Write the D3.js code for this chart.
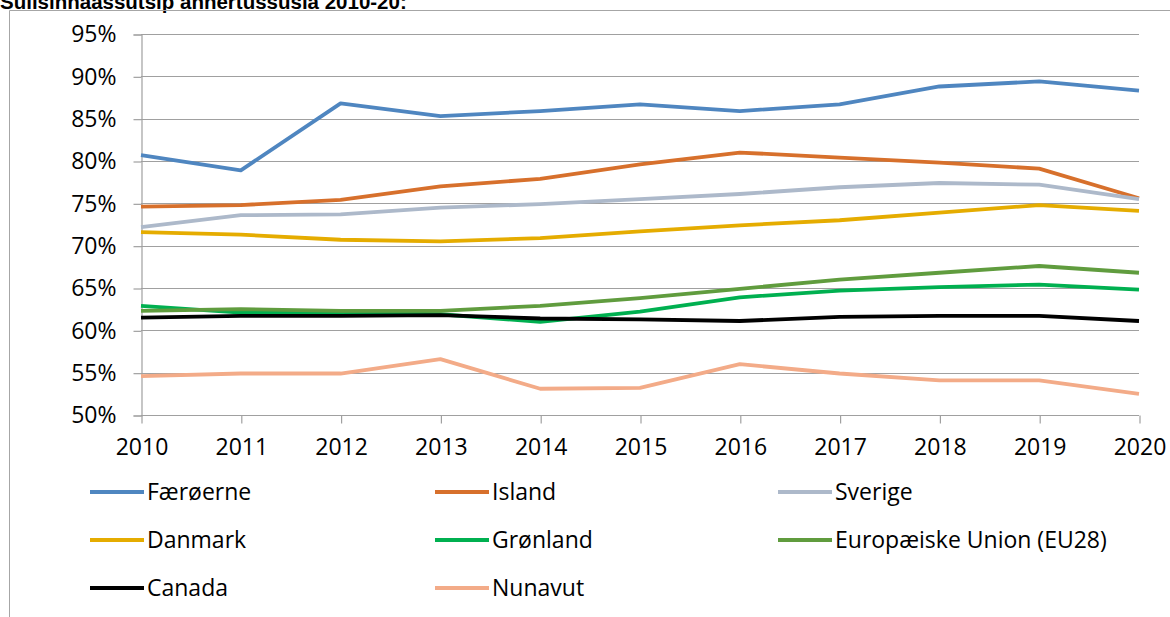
<!DOCTYPE html>
<html>
<head>
<meta charset="utf-8">
<script src="https://cdn.jsdelivr.net/npm/d3@7"></script>
<style>
  html, body { margin: 0; padding: 0; background: #fff; }
  svg { display: block; }
  text { font-family: "Open Sans", sans-serif; fill: #000; }
</style>
</head>
<body>
<svg id="chart" width="1170" height="617"></svg>
<script>
const title = "Sulisinnaassutsip annertussusia 2010-20:";
const years = ["2010","2011","2012","2013","2014","2015","2016","2017","2018","2019","2020"];
const yTicks = [0.50,0.55,0.60,0.65,0.70,0.75,0.80,0.85,0.90,0.95];

const seriesNames = ["Færøerne","Island","Sverige","Danmark","Grønland","Europæiske Union (EU28)","Canada","Nunavut"];
const faroe    = [80.7, 78.9, 86.8, 85.3, 85.9, 86.7, 85.9, 86.7, 88.8, 89.4, 88.3];
const iceland  = [74.6, 74.8, 75.4, 77.0, 77.9, 79.6, 81.0, 80.4, 79.8, 79.1, 75.6];
const sweden   = [72.2, 73.6, 73.7, 74.5, 74.9, 75.5, 76.1, 76.9, 77.4, 77.2, 75.5];
const denmark  = [71.6, 71.3, 70.7, 70.5, 70.9, 71.7, 72.4, 73.0, 73.9, 74.8, 74.1];
const greenland= [62.9, 62.1, 62.1, 61.9, 61.0, 62.2, 63.9, 64.7, 65.1, 65.4, 64.8];
const eu28     = [62.3, 62.5, 62.3, 62.3, 62.9, 63.8, 64.9, 66.0, 66.8, 67.6, 66.8];
const canada   = [61.5, 61.7, 61.7, 61.8, 61.4, 61.3, 61.1, 61.6, 61.7, 61.7, 61.1];
const nunavut  = [54.6, 54.9, 54.9, 56.6, 53.1, 53.2, 56.0, 54.9, 54.1, 54.1, 52.5];
const seriesValues = [faroe, iceland, sweden, denmark, greenland, eu28, canada, nunavut];
const colors = ["#4f86c0","#d7702c","#adb9ca","#e5ac00","#00b050","#609c3e","#000000","#f3ab88"];

const svg = d3.select("#chart");

// title (partly clipped at the top edge, as in the reference)
svg.append("text")
  .attr("x", 0).attr("y", 9)
  .style("font-family", "'Liberation Sans', Arial, sans-serif")
  .style("font-weight", "bold")
  .style("font-size", "20.5px")
  .text(title);

// outer border (top and left visible)
svg.append("path")
  .attr("d", "M9.5,617 V10.5 H1170")
  .attr("fill", "none").attr("stroke", "#a6a6a6").attr("stroke-width", 1);

const x = d3.scalePoint().domain(years).range([141, 1139]);
const y = d3.scaleLinear().domain([0.50, 0.95]).range([415, 34]);

// gridlines
svg.append("g")
  .selectAll("line").data(yTicks.slice(1)).join("line")
  .attr("x1", 141).attr("x2", 1139)
  .attr("y1", d => Math.round(y(d)) + 0.5).attr("y2", d => Math.round(y(d)) + 0.5)
  .attr("stroke", "#a0a0a0").attr("stroke-width", 1.2);

// y axis
const yAxis = d3.axisLeft(y).tickValues(yTicks).tickFormat(d3.format(".0%")).tickSize(8).tickPadding(17);
const gy = svg.append("g").attr("transform", "translate(141.5,0.5)").call(yAxis);
gy.selectAll("path, line").attr("stroke", "#a0a0a0").attr("stroke-width", 1.2);
gy.selectAll("text").style("font-size", "23px").style("font-family", "'Open Sans', sans-serif").attr("fill", "#000");

// x axis
const xAxis = d3.axisBottom(x).tickSize(8).tickPadding(15);
const gx = svg.append("g").attr("transform", "translate(0.5,415.5)").call(xAxis);
gx.select(".domain").attr("d", "M140.5,0H1138.5").attr("stroke", "#a0a0a0").attr("stroke-width", 1.2);
gx.selectAll("line").attr("stroke", "#a0a0a0").attr("stroke-width", 1.2);
gx.selectAll("text").style("font-size", "23px").style("font-family", "'Open Sans', sans-serif").attr("fill", "#000");

// lines
const line = d3.line().x((d, i) => x(years[i])).y(d => y(d / 100));
svg.append("g").selectAll("path").data(seriesValues).join("path")
  .attr("d", d => line(d))
  .attr("fill", "none")
  .attr("stroke", (d, i) => colors[i])
  .attr("stroke-width", 3.8)
  .attr("stroke-linejoin", "round");

// legend
const colX = [90, 435, 778];
const rowY = [492, 540, 588];
const leg = svg.append("g");
seriesNames.forEach((name, i) => {
  const cx = colX[i % 3], cy = rowY[Math.floor(i / 3)];
  leg.append("line").attr("x1", cx).attr("x2", cx + 54).attr("y1", cy).attr("y2", cy)
    .attr("stroke", colors[i]).attr("stroke-width", 3.8);
  leg.append("text").attr("x", cx + 57).attr("y", cy).attr("dy", "0.35em")
    .style("font-size", "23px").text(name);
});
</script>
</body>
</html>
